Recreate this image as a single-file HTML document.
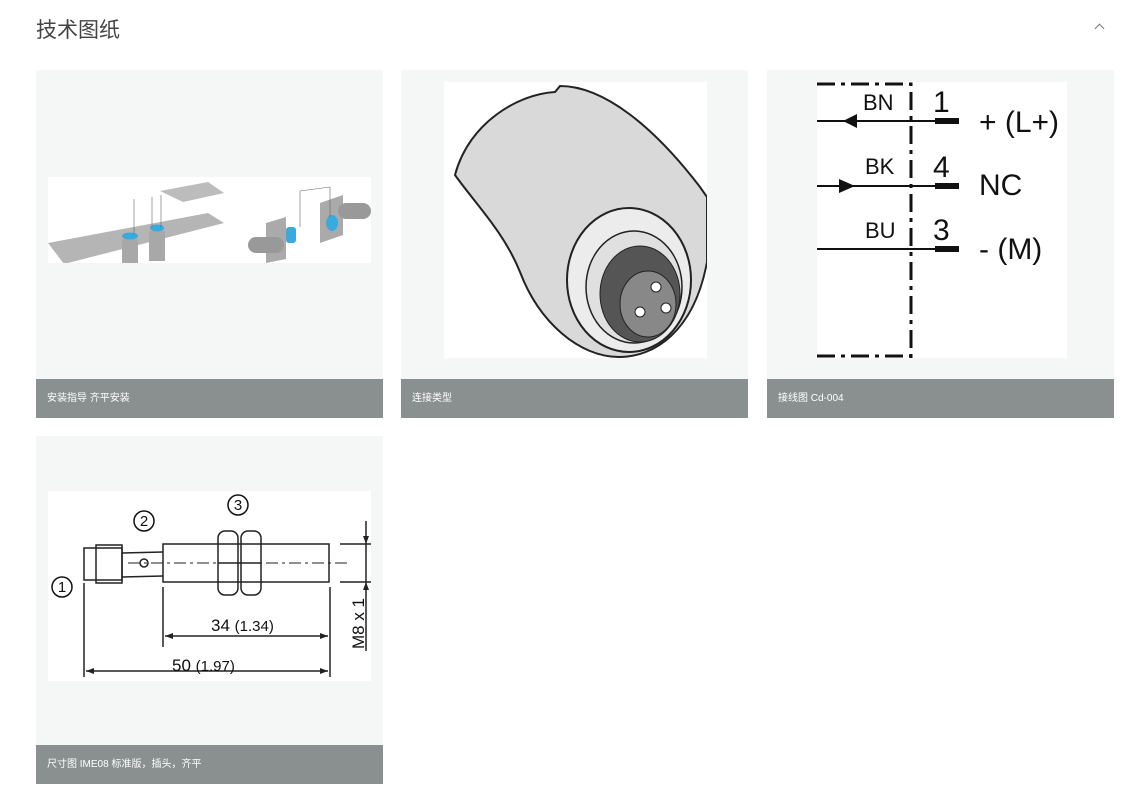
<!DOCTYPE html>
<html><head><meta charset="utf-8"><style>
body{margin:0;width:1132px;height:802px;background:#fff;font-family:"Liberation Sans","Noto Sans CJK SC",sans-serif;position:relative;overflow:hidden}
.t{position:absolute;left:36px;top:14px;font-size:21px;color:#444}
.chev{position:absolute;left:1096px;top:25px;width:6px;height:6px;border-left:1.5px solid #777;border-top:1.5px solid #777;transform:rotate(45deg)}
.card{position:absolute;width:347px;height:348px;background:#f5f7f7}
.cap{position:absolute;left:0;bottom:0;width:100%;height:39px;background:#8a9090;color:#fff;font-size:10px;line-height:39px;text-indent:11px}
svg{position:absolute}
</style></head><body>
<div class="t">技术图纸</div><div class="chev"></div>

<div class="card" style="left:36px;top:70px">
<svg style="left:12px;top:107px" width="323" height="86" viewBox="0 0 323 86">
<rect width="323" height="86" fill="#fff"/>
<polygon points="0,66 160,36 176,46 16,87" fill="#b5b5b5"/>
<polygon points="112,14 160,5 176,16 135,25" fill="#bcbcbc"/>
<rect x="74" y="62" width="16" height="24" fill="#a8a8a8"/><rect x="101" y="54" width="16" height="30" fill="#a8a8a8"/>
<ellipse cx="82" cy="59" rx="8" ry="3.5" fill="#3aa9dc"/><ellipse cx="109" cy="51" rx="7" ry="3.5" fill="#3aa9dc"/>
<line x1="86" y1="22" x2="86" y2="58" stroke="#666" stroke-width=".6"/><line x1="104" y1="20" x2="104" y2="50" stroke="#666" stroke-width=".6"/><line x1="113" y1="18" x2="113" y2="50" stroke="#666" stroke-width=".6"/>
<polygon points="218,46 238,40 238,82 218,86" fill="#aaa"/><rect x="200" y="60" width="36" height="16" rx="8" fill="#999"/><rect x="238" y="50" width="10" height="16" rx="3" fill="#3aa9dc"/>
<polygon points="272,26 295,18 295,58 272,66" fill="#aaa"/><rect x="290" y="26" width="33" height="16" rx="8" fill="#999"/><ellipse cx="284" cy="46" rx="6" ry="8" fill="#3aa9dc"/>
<line x1="252" y1="14" x2="252" y2="50" stroke="#666" stroke-width=".6"/><line x1="282" y1="10" x2="282" y2="40" stroke="#666" stroke-width=".6"/><line x1="252" y1="14" x2="282" y2="10" stroke="#666" stroke-width=".6"/>
</svg>
<div class="cap">安装指导 齐平安装</div></div>

<div class="card" style="left:401px;top:70px">
<svg style="left:43px;top:12px" width="263" height="276" viewBox="0 0 263 276">
<rect width="263" height="276" fill="#fff"/>
<path d="M11,93 C25,40 75,12 111,10 L116,4 C160,4 210,45 256,105 L263,115 L263,180 C250,250 210,275 175,275 C135,275 95,240 76,190 C60,150 30,120 11,93Z" fill="#d9d9d9" stroke="#222" stroke-width="2"/>
<ellipse cx="185" cy="198" rx="62" ry="72" fill="#ececec" stroke="#222" stroke-width="2"/>
<ellipse cx="190" cy="205" rx="48" ry="56" fill="#e0e0e0" stroke="#222" stroke-width="1.5"/>
<ellipse cx="196" cy="212" rx="40" ry="48" fill="#555" stroke="#222"/>
<ellipse cx="204" cy="222" rx="28" ry="33" fill="#888" stroke="#222"/>
<circle cx="212" cy="205" r="5" fill="#fff" stroke="#222"/><circle cx="196" cy="230" r="5" fill="#fff" stroke="#222"/><circle cx="222" cy="226" r="5" fill="#fff" stroke="#222"/>
</svg>
<div class="cap">连接类型</div></div>

<div class="card" style="left:767px;top:70px">
<svg style="left:50px;top:12px" width="250" height="276" viewBox="0 0 250 276" font-family="Liberation Sans,sans-serif">
<rect width="250" height="276" fill="#fff"/>
<g stroke="#111" stroke-width="3" fill="none" stroke-dasharray="18,6,4,6">
<path d="M0,2 H94 V276"/><path d="M0,274 H94"/></g>
<g stroke="#111" stroke-width="2"><line x1="0" y1="39" x2="118" y2="39"/><line x1="0" y1="104" x2="118" y2="104"/><line x1="0" y1="167" x2="118" y2="167"/></g>
<g stroke="#111" stroke-width="6"><line x1="118" y1="39" x2="142" y2="39"/><line x1="118" y1="104" x2="142" y2="104"/><line x1="118" y1="167" x2="142" y2="167"/></g>
<polygon points="40,32 40,46 26,39" fill="#111"/><polygon points="22,97 22,111 38,104" fill="#111"/>
<g font-size="22" fill="#111"><text x="46" y="28">BN</text><text x="48" y="92">BK</text><text x="48" y="156">BU</text></g>
<g font-size="30" fill="#111"><text x="116" y="30">1</text><text x="116" y="95">4</text><text x="116" y="158">3</text>
<text x="162" y="50">+ (L+)</text><text x="162" y="113">NC</text><text x="162" y="177">- (M)</text></g>
</svg>
<div class="cap">接线图 Cd-004</div></div>

<div class="card" style="left:36px;top:436px">
<svg style="left:12px;top:55px" width="323" height="190" viewBox="0 0 323 190" font-family="Liberation Sans,sans-serif">
<rect width="323" height="190" fill="#fff"/>
<g stroke="#222" stroke-width="1.5" fill="none">
<rect x="36" y="57" width="38" height="32"/><rect x="48" y="54" width="26" height="38"/>
<line x1="74" y1="62" x2="115" y2="61"/><line x1="74" y1="86" x2="115" y2="85"/>
<rect x="115" y="53" width="166" height="38"/>
<rect x="170" y="40" width="20" height="64" rx="7"/><rect x="193" y="40" width="20" height="64" rx="7"/>
<line x1="170" y1="72" x2="213" y2="72"/>
<circle cx="96" cy="72" r="4"/>
<line x1="36" y1="92" x2="36" y2="186"/><line x1="115" y1="96" x2="115" y2="156"/><line x1="282" y1="96" x2="282" y2="186"/>
<line x1="38" y1="180" x2="280" y2="180"/><line x1="117" y1="145" x2="280" y2="145"/>
<line x1="292" y1="53" x2="330" y2="53"/><line x1="292" y1="91" x2="330" y2="91"/>
<line x1="318" y1="30" x2="318" y2="160"/>
</g>
<g fill="#222"><polygon points="38,180 46,177 46,183"/><polygon points="280,180 272,177 272,183"/><polygon points="117,145 125,142 125,148"/><polygon points="280,145 272,142 272,148"/>
<polygon points="318,53 315,45 321,45"/><polygon points="318,91 315,99 321,99"/></g>
<line x1="80" y1="72" x2="300" y2="72" stroke="#222" stroke-dasharray="12,4,3,4"/>
<g stroke="#111" stroke-width="1.5" fill="none"><circle cx="14" cy="96" r="10"/><circle cx="96" cy="30" r="10"/><circle cx="190" cy="14" r="10"/></g>
<g font-size="15" fill="#111" text-anchor="middle"><text x="14" y="101">1</text><text x="96" y="35">2</text><text x="190" y="19">3</text></g>
<g font-size="17" fill="#111"><text x="163" y="140">34 <tspan font-size="15">(1.34)</tspan></text><text x="124" y="180">50 <tspan font-size="15">(1.97)</tspan></text>
<text transform="translate(316,158) rotate(-90)">M8 x 1</text></g>
</svg>
<div class="cap">尺寸图 IME08 标准版，插头，齐平</div></div>
</body></html>
